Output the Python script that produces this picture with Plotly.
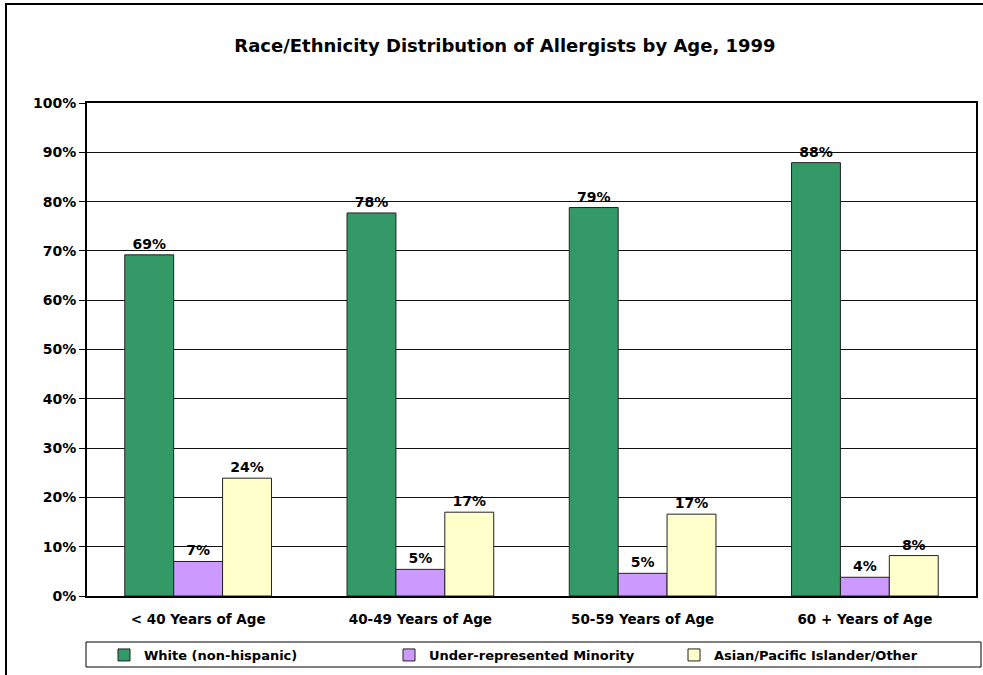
import plotly.graph_objects as go

categories = ["< 40 Years of Age", "40-49 Years of Age", "50-59 Years of Age", "60 + Years of Age"]
white = [69.2, 77.7, 78.8, 87.9]
minority = [7.0, 5.4, 4.6, 3.8]
asian = [23.9, 17.0, 16.6, 8.2]
series_names = ["White (non-hispanic)", "Under-represented Minority", "Asian/Pacific Islander/Other"]
colors = ["#339966", "#CC99FF", "#FFFFCC"]
y_ticks = [0, 10, 20, 30, 40, 50, 60, 70, 80, 90, 100]

FONT = "DejaVu Sans"

fig = go.Figure()
for name, vals, col in zip(series_names, [white, minority, asian], colors):
    fig.add_trace(go.Bar(
        x=categories, y=vals, name=name,
        marker=dict(color=col, line=dict(color="#222222", width=1)),
        texttemplate="%{y:.0f}%", textposition="outside", cliponaxis=False,
        textfont=dict(family=FONT, size=14, color="black", weight="bold"),
    ))

L, R, T, B = 87, 7, 103, 79
W, H = 983, 675
pw, ph = W - L - R, H - T - B

def px_x(x):
    return (x - L) / pw

def px_y(y):
    return (H - B - y) / ph

fig.update_layout(
    width=W, height=H,
    margin=dict(l=L, r=R, t=T, b=B, autoexpand=False),
    paper_bgcolor="white", plot_bgcolor="white",
    barmode="group", bargap=0.34, bargroupgap=0,
    font=dict(family=FONT, size=13, color="black", weight="bold"),
    title=dict(text="Race/Ethnicity Distribution of Allergists by Age, 1999",
               x=505 / W, xanchor="center", y=1 - 46 / H, yanchor="middle",
               font=dict(family=FONT, size=18, color="black", weight="bold")),
    xaxis=dict(showgrid=False, showline=True, linecolor="black", linewidth=2,
               mirror=True, ticks="", ticklabelstandoff=10,
               tickfont=dict(size=13.5, weight="bold")),
    yaxis=dict(range=[0, 100], tickvals=y_ticks, ticktext=[f"{v}%" for v in y_ticks],
               showgrid=True, gridcolor="#111111", gridwidth=1,
               showline=True, linecolor="black", linewidth=2, mirror=True,
               ticks="outside", ticklen=6, tickcolor="black",
               tickfont=dict(size=14, weight="bold"), zeroline=False),
    legend=dict(orientation="h", xref="container", yref="container",
                x=104 / W, xanchor="left", y=1 - 655 / H, yanchor="middle",
                borderwidth=0, bgcolor="rgba(0,0,0,0)",
                entrywidth=240, entrywidthmode="pixels",
                font=dict(family=FONT, size=13, color="black", weight="bold"),
                traceorder="normal"),
    shapes=[
        dict(type="rect", xref="paper", yref="paper",
             x0=px_x(6), x1=px_x(1000), y0=px_y(700), y1=px_y(4),
             line=dict(color="black", width=2), fillcolor="rgba(0,0,0,0)", layer="below"),
        dict(type="rect", xref="paper", yref="paper",
             x0=px_x(86), x1=px_x(981), y0=px_y(667), y1=px_y(642),
             line=dict(color="black", width=1), fillcolor="white", layer="below"),
    ],
)

fig.write_html("out.html", config={"displayModeBar": False},
               post_script="document.body.style.margin='0';")
